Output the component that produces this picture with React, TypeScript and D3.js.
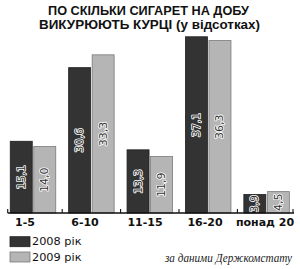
import React from "react";
import * as d3 from "d3";

const categories = ["1-5", "6-10", "11-15", "16-20", "понад 20"];
const series2008 = [15.1, 30.6, 13.3, 37.1, 3.9];
const series2009 = [14.0, 33.3, 11.9, 36.3, 4.5];
const valueLabels2008 = ["15,1", "30,6", "13,3", "37,1", "3,9"];
const valueLabels2009 = ["14,0", "33,3", "11,9", "36,3", "4,5"];
const seriesNames = ["2008 рік", "2009 рік"];
const titleLines = ["ПО СКІЛЬКИ СИГАРЕТ НА ДОБУ", "ВИКУРЮЮТЬ КУРЦІ (у відсотках)"];
const sourceText = "за даними Держкомстату";

const W = 300;
const H = 269;
const baseline = 213;

const x = d3.scaleBand<string>().domain(categories).range([3.8, 295.8]).paddingInner(0).paddingOuter(0);
const xLabel = d3.scalePoint<string>().domain(categories).range([25, 265]);
const y = d3.scaleLinear().domain([0, 40]).range([baseline, baseline - 190]);

const barW = 22;
const gap = 1.5;
const colors = ["#333333", "#b5b5b5"];
const strokes = ["#1f1f1f", "#7a7a7a"];

export default function App() {
  const series = [series2008, series2009];
  const labels = [valueLabels2008, valueLabels2009];
  const tickXs = [7.7, ...categories.slice(1).map((c) => x(c)!), 293];
  return (
    <svg
      width={W}
      height={H}
      style={{ position: "absolute", left: 0, top: 0, background: "#fff" }}
    >
      <rect x={0} y={0} width={W} height={H} fill="#fff" />
      <text
        x={148.5}
        y={15}
        textAnchor="middle"
        fontFamily="'Liberation Sans', Arial, sans-serif"
        fontWeight="bold"
        fontSize={12.5}
        fill="#111"
        textLength={201}
        lengthAdjust="spacingAndGlyphs"
      >
        {titleLines[0]}
      </text>
      <text
        x={149.5}
        y={29.3}
        textAnchor="middle"
        fontFamily="'Liberation Sans', Arial, sans-serif"
        fontWeight="bold"
        fontSize={12.5}
        fill="#111"
        textLength={221}
        lengthAdjust="spacingAndGlyphs"
      >
        {titleLines[1]}
      </text>

      {categories.map((c, i) => {
        const center = x(c)! + x.bandwidth() / 2;
        return (
          <g key={c}>
            {series.map((s, k) => {
              const bx = k === 0 ? center - gap / 2 - barW : center + gap / 2;
              const top = y(s[i]);
              const h = baseline - top;
              const cx = bx + barW / 2;
              const cy = top + h / 2;
              return (
                <g key={k}>
                  <rect
                    x={bx}
                    y={top}
                    width={barW}
                    height={h}
                    fill={colors[k]}
                    stroke={strokes[k]}
                    strokeWidth={0.8}
                  />
                  <text
                    transform={`translate(${cx},${cy}) rotate(-90)`}
                    textAnchor="middle"
                    dominantBaseline="central"
                    fontFamily="'DejaVu Sans', sans-serif"
                    fontSize={11}
                    fill="#333"
                    stroke="#fff"
                    strokeWidth={1.6}
                    paintOrder="stroke"
                    strokeLinejoin="round"
                  >
                    {labels[k][i]}
                  </text>
                </g>
              );
            })}
          </g>
        );
      })}

      <line x1={7.7} x2={294} y1={baseline} y2={baseline} stroke="#111" strokeWidth={1.3} />
      {tickXs.map((tx, i) => (
        <line key={i} x1={tx} x2={tx} y1={baseline} y2={baseline - 4} stroke="#111" strokeWidth={1.1} />
      ))}

      {categories.map((c) => (
        <text
          key={c}
          x={xLabel(c)}
          y={225.7}
          textAnchor="middle"
          fontFamily="'DejaVu Sans', sans-serif"
          fontWeight="bold"
          fontSize={11}
          fill="#111"
        >
          {c}
        </text>
      ))}

      {seriesNames.map((n, k) => (
        <g key={n}>
          <rect
            x={10}
            y={236.7 + k * 15.3}
            width={20}
            height={10}
            fill={colors[k]}
            stroke={strokes[k]}
            strokeWidth={0.8}
          />
          <text
            x={32}
            y={245.3 + k * 15.4}
            fontFamily="'DejaVu Sans', sans-serif"
            fontSize={11.3}
            fill="#111"
          >
            {n}
          </text>
        </g>
      ))}

      <text
        x={165}
        y={261.5}
        fontFamily="'Liberation Serif', 'DejaVu Serif', serif"
        fontStyle="italic"
        fontSize={12}
        fill="#222"
        textLength={127}
        lengthAdjust="spacingAndGlyphs"
      >
        {sourceText}
      </text>
    </svg>
  );
}
